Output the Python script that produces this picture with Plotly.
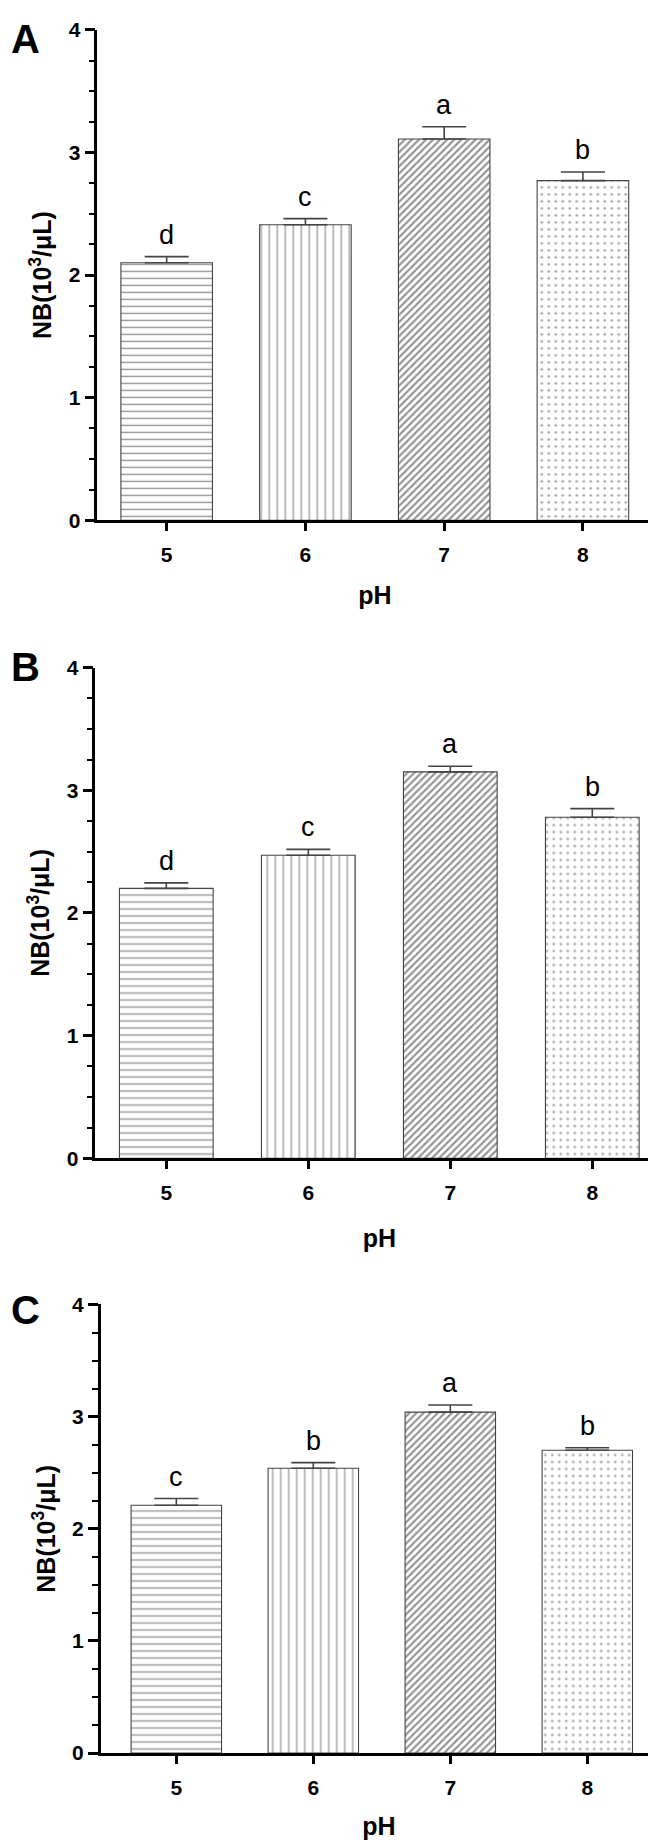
import plotly.graph_objects as go

# ---------------- data ----------------
ph = ["5", "6", "7", "8"]

a_mean = [2.10, 2.41, 3.11, 2.77]
a_err = [0.05, 0.05, 0.10, 0.07]
a_letters = ["d", "c", "a", "b"]

b_mean = [2.20, 2.47, 3.15, 2.78]
b_err = [0.045, 0.048, 0.045, 0.07]
b_letters = ["d", "c", "a", "b"]

c_mean = [2.21, 2.54, 3.04, 2.70]
c_err = [0.06, 0.05, 0.064, 0.023]
c_letters = ["c", "b", "a", "b"]

panel_labels = ["A", "B", "C"]
y_title = "NB(10<sup>3</sup>/μL)"
x_title = "pH"

# ---------------- style ----------------
W, H = 656, 1846
FONT = "Liberation Sans, Arial, Helvetica, sans-serif"

patterns = [
    dict(shape="-", size=7, solidity=0.2, fgcolor="#2e2e2e", bgcolor="white"),
    dict(shape="|", size=8, solidity=0.16, fgcolor="#2e2e2e", bgcolor="white"),
    dict(shape="/", size=5, solidity=0.42, fgcolor="#262626", bgcolor="white"),
    dict(shape=".", size=7, solidity=0.1, fgcolor="#3a3a3a", bgcolor="white"),
]

# pixel geometry of each panel
panels = [
    dict(x0=89.3, x1=644.3, ytop=10.0, ybot=506.5, xr=[-0.5, 3.5], label_y=19, ph_so=22),
    dict(x0=87.3, x1=655.3, ytop=655.7, ybot=1152.7, xr=[-0.5, 3.5], label_y=655.5, ph_so=27),
    dict(x0=92.7, x1=649.3, ytop=1300.7, ybot=1755.0, xr=[-0.552, 3.511], label_y=1306.7, ph_so=20),
]

datasets = [
    (a_mean, a_err, a_letters),
    (b_mean, b_err, b_letters),
    (c_mean, c_err, c_letters),
]

fig = go.Figure()
annotations = []

for i, (p, (mean, err, letters)) in enumerate(zip(panels, datasets)):
    n = "" if i == 0 else str(i + 1)
    xa, ya = "x" + n, "y" + n
    for j in range(len(ph)):
        fig.add_trace(go.Bar(
            x=[ph[j]], y=[mean[j]],
            xaxis=xa, yaxis=ya,
            width=0.66,
            marker=dict(color="white", line=dict(color="#444444", width=1.1),
                        pattern=patterns[j]),
            error_y=dict(type="data", array=[err[j]], arrayminus=[0], symmetric=False,
                         color="#444444", thickness=1.6, width=22),
            showlegend=False, hoverinfo="skip",
        ))
        # significance letter above the error bar (category index j on the x axis)
        annotations.append(dict(
            x=j, y=mean[j] + err[j], xref=xa, yref=ya,
            text=letters[j], showarrow=False, yanchor="bottom", yshift=5,
            font=dict(family=FONT, size=27, color="black"),
        ))

    dom_x = [p["x0"] / W, p["x1"] / W]
    dom_y = [1 - p["ybot"] / H, 1 - p["ytop"] / H]
    fig.update_layout(**{
        ("xaxis" + n): dict(
            domain=dom_x, anchor=ya, type="category", range=p["xr"],
            categoryorder="array", categoryarray=ph,
            showline=True, linecolor="black", linewidth=2.5,
            ticks="outside", ticklen=8, tickwidth=2.5, tickcolor="black",
            ticklabelstandoff=6,
            tickfont=dict(family=FONT, size=21, color="black", weight="bold"),
            title=dict(text="<b>" + x_title + "</b>", standoff=p["ph_so"],
                       font=dict(family=FONT, size=25, color="black")),
            showgrid=False, zeroline=False, fixedrange=True,
        ),
        ("yaxis" + n): dict(
            domain=dom_y, anchor=xa, range=[0, 4],
            tickvals=[0, 1, 2, 3, 4],
            showline=True, linecolor="black", linewidth=2.5,
            ticks="outside", ticklen=10, tickwidth=2.5, tickcolor="black",
            minor=dict(dtick=0.25, ticks="outside", ticklen=6, tickwidth=2, tickcolor="black"),
            tickfont=dict(family=FONT, size=21, color="black", weight="bold"),
            title=dict(text="<b>" + y_title + "</b>", standoff=10,
                       font=dict(family=FONT, size=25, color="black")),
            showgrid=False, zeroline=False, fixedrange=True,
        ),
    })
    # panel letter
    annotations.append(dict(
        x=17 / W, xref="paper", y=1 - p["label_y"] / H, yref="paper",
        text="<b>" + panel_labels[i] + "</b>", showarrow=False,
        xanchor="center", yanchor="middle",
        font=dict(family=FONT, size=40, color="black"),
    ))

fig.update_layout(
    width=W, height=H,
    margin=dict(l=0, r=0, t=0, b=0),
    paper_bgcolor="white", plot_bgcolor="white",
    barmode="overlay",
    annotations=annotations,
    font=dict(family=FONT, color="black"),
)

fig.write_html("out.html")
